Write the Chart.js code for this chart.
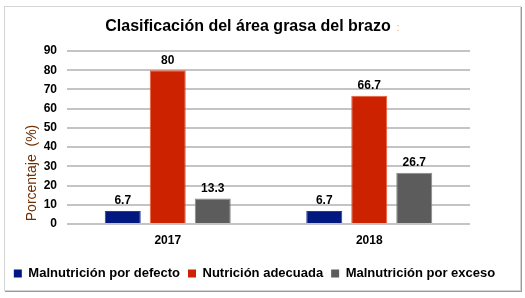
<!DOCTYPE html>
<html>
<head>
<meta charset="utf-8">
<script src="https://cdn.jsdelivr.net/npm/chart.js@4"></script>
<style>
  body { margin: 0; background: #fff; }
  #box {
    position: absolute; left: 4px; top: 6px; width: 515px; height: 283px;
    border: 1px solid #d4d4d4; box-shadow: 1px 1px 0 #9a9a9a;
  }
</style>
</head>
<body>
<div id="box"><canvas id="chart" width="515" height="283"></canvas></div>
<script>
const years = ['2017', '2018'];
const defecto = [6.7, 6.7];
const adecuada = [80, 66.7];
const exceso = [13.3, 26.7];
const yTicks = [0, 10, 20, 30, 40, 50, 60, 70, 80, 90];

const FONT = 'Arial, "Liberation Sans", sans-serif';

// value labels above bars
const barLabels = {
  id: 'barLabels',
  afterDatasetsDraw(chart) {
    const c = chart.ctx;
    c.save();
    c.font = 'bold 12px ' + FONT;
    c.fillStyle = '#000';
    c.textAlign = 'center';
    c.textBaseline = 'bottom';
    chart.data.datasets.forEach((ds, i) => {
      chart.getDatasetMeta(i).data.forEach((bar, j) => {
        c.fillText(String(ds.data[j]), bar.x, bar.y - 4);
      });
    });
    c.restore();
  }
};

// title and y-axis title, placed like the original
const texts = {
  id: 'texts',
  afterDraw(chart) {
    const c = chart.ctx;
    c.save();
    c.font = 'bold 16px ' + FONT;
    c.textBaseline = 'middle';
    c.textAlign = 'left';
    const t = 'Clasificación del área grasa del brazo';
    const w = c.measureText(t).width;
    const x0 = 243 - w / 2;
    c.fillStyle = '#000';
    c.fillText(t, x0, 20);
    c.fillStyle = '#f0a070';
    c.font = '10px ' + FONT;
    c.fillText(':', x0 + w + 6, 21);

    c.translate(27, 166);
    c.rotate(-Math.PI / 2);
    c.textAlign = 'center';
    c.fillStyle = '#6e2e00';
    c.font = '14px ' + FONT;
    c.fillText('Porcentaje  (%)', 0, 0);
    c.restore();
  }
};

new Chart(document.getElementById('chart'), {
  type: 'bar',
  data: {
    labels: years,
    datasets: [
      { label: 'Malnutrición por defecto', data: defecto,
        backgroundColor: '#00187f', borderColor: '#2a3a90', borderWidth: 1 },
      { label: 'Nutrición adecuada', data: adecuada,
        backgroundColor: '#cc2200', borderColor: '#e8603a', borderWidth: 1 },
      { label: 'Malnutrición por exceso', data: exceso,
        backgroundColor: '#5c5c5c', borderColor: '#8a8a8a', borderWidth: 1 }
    ]
  },
  options: {
    responsive: false,
    animation: false,
    layout: { padding: { top: 44, left: 0, right: 16, bottom: 0 } },
    datasets: { bar: { categoryPercentage: 0.67, barPercentage: 0.8 } },
    scales: {
      x: {
        grid: { display: false },
        border: { display: false },
        ticks: { color: '#000', font: { family: FONT, size: 12, weight: 'bold' }, padding: 1 },
        afterFit(s) { s.height = 35; }
      },
      y: {
        min: 0, max: 90,
        afterBuildTicks(s) { s.ticks = yTicks.map(v => ({ value: v })); },
        grid: { color: '#c4c4c4', lineWidth: 2, drawTicks: false },
        border: { display: false },
        ticks: { color: '#000', font: { family: FONT, size: 12, weight: 'bold' }, padding: 10, autoSkip: false },
        afterFit(s) { s.width = 62; }
      },
      // empty right-hand strip, keeps the plot narrow without squeezing the legend
      yRight: {
        position: 'right',
        grid: { display: false },
        border: { display: false },
        ticks: { display: false },
        afterFit(s) { s.width = 34; }
      }
    },
    plugins: {
      title: { display: false },
      tooltip: { enabled: false },
      legend: {
        position: 'bottom',
        labels: {
          color: '#000',
          font: { family: FONT, size: 13, weight: 'bold' },
          boxWidth: 8, boxHeight: 8, padding: 8,
          generateLabels(chart) {
            return chart.data.datasets.map((ds, i) => ({
              text: ds.label, fillStyle: ds.backgroundColor,
              strokeStyle: ds.backgroundColor, lineWidth: 0, datasetIndex: i
            }));
          }
        }
      }
    }
  },
  plugins: [barLabels, texts]
});
</script>
</body>
</html>
